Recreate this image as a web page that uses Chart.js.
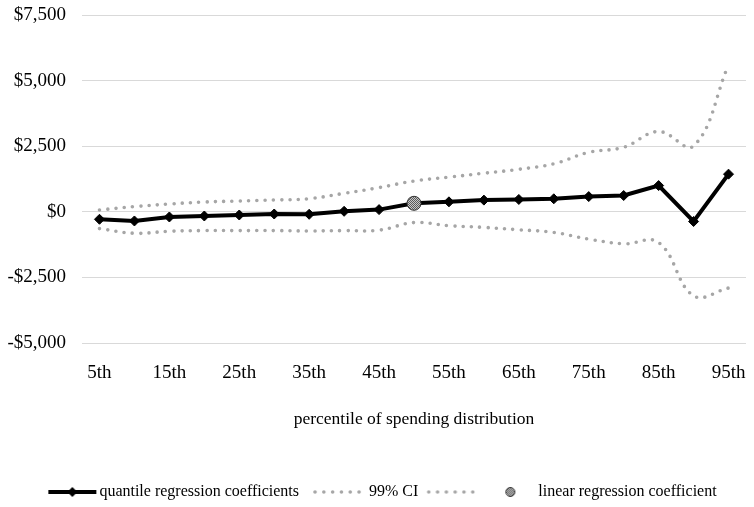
<!DOCTYPE html>
<html>
<head>
<meta charset="utf-8">
<script src="https://cdn.jsdelivr.net/npm/chart.js@4/dist/chart.umd.min.js"></script>
<style>
  html, body { margin: 0; padding: 0; background: #fff; }
  #wrap { width: 754px; height: 507px; position: relative; }
</style>
</head>
<body>
<div id="wrap"><canvas id="c"></canvas></div>
<script>
const categories = ['5th','10th','15th','20th','25th','30th','35th','40th','45th','50th','55th','60th','65th','70th','75th','80th','85th','90th','95th'];
const shownTicks = ['5th','15th','25th','35th','45th','55th','65th','75th','85th','95th'];
const quantileCoef = [-285, -350, -198, -160, -122, -84, -95, 19, 84, 324, 380, 445, 470, 495, 580, 620, 1000, -370, 1435];
const ciUpper = [70, 197, 297, 373, 411, 449, 500, 704, 921, 1173, 1320, 1470, 1620, 1830, 2265, 2460, 3060, 2510, 5600];
const ciLower = [-640, -818, -742, -716, -716, -716, -730, -716, -700, -411, -530, -595, -685, -785, -1040, -1220, -1170, -3200, -2905];
const linearCoef = [null, null, null, null, null, null, null, null, null, 324, null, null, null, null, null, null, null, null, null];
const yTicks = [-5000, -2500, 0, 2500, 5000, 7500];

const FONT = "'Liberation Serif', 'Times New Roman', serif";
const GREY = '#a6a6a6';

function hatch() {
  const c = document.createElement('canvas');
  c.width = 2; c.height = 2;
  const x = c.getContext('2d');
  x.fillStyle = '#c8c8c8'; x.fillRect(0, 0, 2, 2);
  x.fillStyle = '#5a5a5a'; x.fillRect(0, 0, 1, 1); x.fillRect(1, 1, 1, 1);
  return x.createPattern(c, 'repeat');
}
const hatchPattern = hatch();

function symCanvas(half, draw) {
  const c = document.createElement('canvas');
  c.width = half * 2; c.height = 16;
  const x = c.getContext('2d');
  draw(x, half, 8);
  return c;
}
const symQuantile = symCanvas(27, (x, cx, cy) => {
  x.strokeStyle = '#000'; x.lineWidth = 4;
  x.beginPath(); x.moveTo(cx - 23, cy); x.lineTo(cx + 25, cy); x.stroke();
  x.fillStyle = '#000';
  x.beginPath(); x.moveTo(cx + 1 - 5, cy); x.lineTo(cx + 1, cy - 5); x.lineTo(cx + 1 + 5, cy); x.lineTo(cx + 1, cy + 5); x.closePath(); x.fill();
});
function dots(l, r) {
  return symCanvas(28, (x, cx, cy) => {
    x.fillStyle = GREY;
    for (let i = 0; i < 6; i++) {
      const px = cx + l + (r - l) * i / 5;
      x.beginPath(); x.arc(px, cy, 1.8, 0, Math.PI * 2); x.fill();
    }
  });
}
const symCI1 = dots(-26, 18);
const symCI2 = dots(-23.6, 20.4);
const symLinear = symCanvas(8, (x, cx, cy) => {
  x.fillStyle = hatchPattern; x.strokeStyle = '#333'; x.lineWidth = 1;
  x.beginPath(); x.arc(cx, cy, 4.5, 0, Math.PI * 2); x.fill(); x.stroke();
});

const legendItems = [
  { text: 'quantile regression coefficients   ', pointStyle: symQuantile },
  { text: '99% CI ', pointStyle: symCI1 },
  { text: '', pointStyle: symCI2 },
  { text: 'linear regression coefficient', pointStyle: symLinear }
];

function fmt(v) {
  const s = '$' + Math.abs(v).toLocaleString('en-US');
  return v < 0 ? '-' + s : s;
}

const shiftLegend = {
  id: 'shiftLegend',
  afterLayout(chart) {
    if (chart.legend) { chart.legend.left += 11; chart.legend.right += 11; }
  }
};

new Chart(document.getElementById('c'), {
  type: 'line',
  plugins: [shiftLegend],
  data: {
    labels: categories,
    datasets: [
      { label: 'linear regression coefficient', data: linearCoef, showLine: false,
        pointStyle: 'circle', pointRadius: 7, pointBackgroundColor: hatchPattern,
        pointBorderColor: '#333', pointBorderWidth: 1 },
      { label: 'quantile regression coefficients', data: quantileCoef, borderColor: '#000',
        borderWidth: 4, pointStyle: 'rectRot', pointRadius: 5, pointBackgroundColor: '#000',
        pointBorderColor: '#000', pointBorderWidth: 1, tension: 0 },
      { label: '99% CI', data: ciUpper, borderColor: GREY, borderWidth: 3.6,
        borderDash: [0, 8.3], borderCapStyle: 'round', pointRadius: 0, tension: 0.4 },
      { label: '99% CI lower', data: ciLower, borderColor: GREY, borderWidth: 3.6,
        borderDash: [0, 8.3], borderCapStyle: 'round', pointRadius: 0, tension: 0.4 }
    ]
  },
  options: {
    responsive: true,
    maintainAspectRatio: false,
    animation: false,
    layout: { padding: { left: 0, right: 8, top: 15, bottom: -3 } },
    plugins: {
      tooltip: { enabled: false },
      legend: {
        position: 'bottom',
        labels: {
          usePointStyle: true,
          pointStyleWidth: 40,
          padding: 10,
          color: '#000',
          font: { family: FONT, size: 16 },
          generateLabels: () => legendItems.map((it, i) => ({
            text: it.text, pointStyle: it.pointStyle, fillStyle: 'transparent',
            strokeStyle: 'transparent', lineWidth: 0, hidden: false, datasetIndex: i, fontColor: '#000'
          }))
        }
      }
    },
    scales: {
      x: {
        offset: true,
        grid: { display: false, drawTicks: false, offset: true },
        border: { display: false },
        ticks: {
          autoSkip: false, maxRotation: 0, padding: 19, color: '#000',
          font: { family: FONT, size: 19 },
          callback: function (v, i) { const l = categories[i]; return shownTicks.includes(l) ? l : ''; }
        },
        title: { display: true, text: 'percentile of spending distribution', color: '#000',
          font: { family: FONT, size: 17.5 }, padding: { top: 0, bottom: 44 } },
        afterFit: (s) => { s.height = 131; s.paddingLeft = 0; s.paddingRight = 0; }
      },
      y: {
        min: -5000, max: 7500,
        grid: { color: '#d9d9d9', lineWidth: 1, drawTicks: false },
        border: { display: false },
        afterBuildTicks: (s) => { s.ticks = yTicks.map(v => ({ value: v })); },
        ticks: { padding: 16, color: '#000', font: { family: FONT, size: 19 }, callback: (v) => fmt(v) },
        afterFit: (s) => { s.width = 82; s.paddingTop = 0; s.paddingBottom = 0; }
      }
    }
  }
});
</script>
</body>
</html>
